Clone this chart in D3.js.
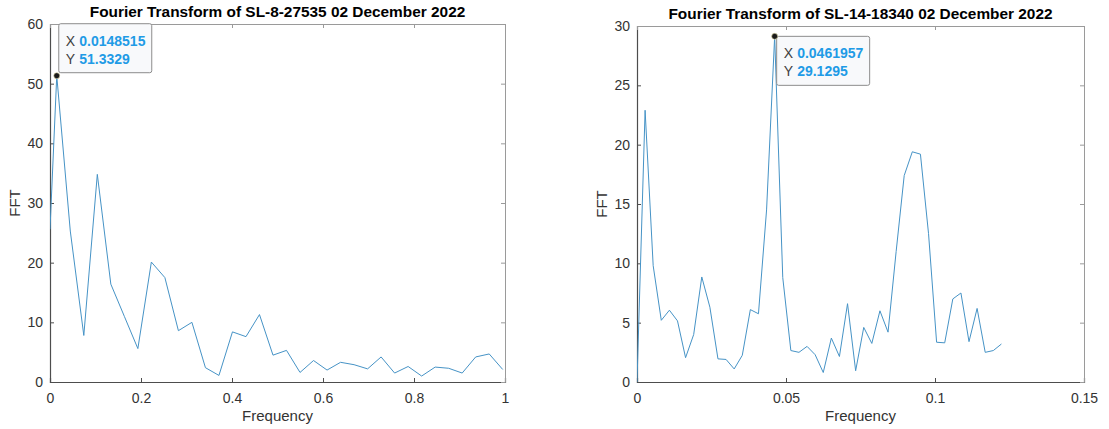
<!DOCTYPE html>
<html>
<head>
<meta charset="utf-8">
<script src="https://cdn.jsdelivr.net/npm/d3@7"></script>
<style>
  body { margin: 0; background: #fff; }
  svg { display: block; font-family: "Liberation Sans", Arial, Helvetica, sans-serif; }
</style>
</head>
<body>
<div id="chart"></div>
<script>
// Fourier transforms of two sensors

// left panel: SL-8-27535
const freqLeft = [0, 0.0148515, 0.0446, 0.0743, 0.1040, 0.1337, 0.1634, 0.1931, 0.2228, 0.2525,
  0.2822, 0.3119, 0.3416, 0.3713, 0.4010, 0.4307, 0.4604, 0.4901, 0.5198, 0.5495,
  0.5792, 0.6089, 0.6386, 0.6683, 0.6980, 0.7277, 0.7574, 0.7871, 0.8168, 0.8465,
  0.8762, 0.9059, 0.9356, 0.9653, 0.9950];
const fftLeft = [25.6, 51.3329, 25.3, 7.8, 34.8, 16.4, 11.0, 5.6, 20.1, 17.5,
  8.6, 10.0, 2.4, 1.1, 8.4, 7.6, 11.3, 4.5, 5.3, 1.6,
  3.6, 2.0, 3.3, 2.9, 2.2, 4.2, 1.5, 2.6, 1.0, 2.5,
  2.3, 1.5, 4.2, 4.7, 2.1];

// right panel: SL-14-18340
const freqRight = [0, 0.00272, 0.00543, 0.00815, 0.01087, 0.01359, 0.01630, 0.01902, 0.02174, 0.02446,
  0.02717, 0.02989, 0.03261, 0.03533, 0.03804, 0.04076, 0.04348, 0.0461957, 0.04891, 0.05163,
  0.05435, 0.05707, 0.05978, 0.06250, 0.06522, 0.06793, 0.07065, 0.07337, 0.07609, 0.07880,
  0.08152, 0.08424, 0.08696, 0.08967, 0.09239, 0.09511, 0.09783, 0.10054, 0.10326, 0.10598,
  0.10870, 0.11141, 0.11413, 0.11685, 0.11957, 0.12228];
const fftRight = [0, 22.9, 9.8, 5.2, 6.05, 5.15, 2.05, 4.0, 8.85, 6.3,
  1.95, 1.9, 1.1, 2.25, 6.1, 5.75, 14.5, 29.1295, 8.8, 2.65,
  2.5, 3.0, 2.3, 0.8, 3.7, 2.15, 6.6, 0.95, 4.6, 3.25,
  6.0, 4.2, 11.0, 17.4, 19.4, 19.2, 12.5, 3.35, 3.3, 7.0,
  7.5, 3.4, 6.2, 2.5, 2.65, 3.2];

const xTicksLeft = [0, 0.2, 0.4, 0.6, 0.8, 1];
const yTicksLeft = [0, 10, 20, 30, 40, 50, 60];
const xTicksRight = [0, 0.05, 0.1, 0.15];
const yTicksRight = [0, 5, 10, 15, 20, 25, 30];

const panels = [
  {
    title: 'Fourier Transform of SL-8-27535 02 December 2022',
    freq: freqLeft, fft: fftLeft,
    xDomain: [0, 1], yDomain: [0, 60],
    xTicks: xTicksLeft, yTicks: yTicksLeft,
    tipIndex: 1, tipText: ['0.0148515', '51.3329'], tipAbove: true,
    box: { left: 50, right: 505, top: 24, bottom: 382 },
  },
  {
    title: 'Fourier Transform of SL-14-18340 02 December 2022',
    freq: freqRight, fft: fftRight,
    xDomain: [0, 0.15], yDomain: [0, 30],
    xTicks: xTicksRight, yTicks: yTicksRight,
    tipIndex: 17, tipText: ['0.0461957', '29.1295'], tipAbove: false,
    box: { left: 637, right: 1084, top: 26, bottom: 382 },
  },
];

const svg = d3.select('#chart')
  .append('svg')
  .attr('width', 1109)
  .attr('height', 429);

const axisColor = '#4d4d4d';
const lineColor = '#4693c6';

panels.forEach((p, k) => {
  const { box } = p;
  const x = d3.scaleLinear().domain(p.xDomain).range([box.left, box.right]);
  const y = d3.scaleLinear().domain(p.yDomain).range([box.bottom, box.top]);
  const g = svg.append('g');

  // clip so the trace stays inside the axes
  const clipId = `clip${k}`;
  g.append('clipPath').attr('id', clipId)
    .append('rect')
    .attr('x', box.left).attr('y', box.top)
    .attr('width', box.right - box.left).attr('height', box.bottom - box.top);

  // bottom and left axes, ticks pointing inward
  const xAxis = d3.axisBottom(x).tickValues(p.xTicks).tickSize(-4).tickPadding(11)
    .tickFormat(d3.format('~g'));
  const yAxis = d3.axisLeft(y).tickValues(p.yTicks).tickSize(-4).tickPadding(7)
    .tickFormat(d3.format('~g'));

  const gx = g.append('g').attr('transform', `translate(0,${box.bottom})`).call(xAxis);
  const gy = g.append('g').attr('transform', `translate(${box.left},0)`).call(yAxis);

  // mirrored top and right axes (MATLAB "box on")
  const gxt = g.append('g').attr('transform', `translate(0,${box.top})`)
    .call(d3.axisTop(x).tickValues(p.xTicks).tickSize(-4).tickFormat(''));
  const gyr = g.append('g').attr('transform', `translate(${box.right},0)`)
    .call(d3.axisRight(y).tickValues(p.yTicks).tickSize(-4).tickFormat(''));

  [gx, gy].forEach((a) => {
    a.select('.domain').attr('stroke', axisColor).attr('stroke-width', 1.2);
    a.selectAll('.tick line').attr('stroke', axisColor);
    a.selectAll('.tick text')
      .attr('fill', '#333')
      .style('font-size', '14px')
      .style('font-family', '"Liberation Sans", Arial, sans-serif');
  });
  [gxt, gyr].forEach((a) => {
    a.select('.domain').attr('stroke', '#9a9a9a').attr('stroke-width', 1);
    a.selectAll('.tick line').attr('stroke', '#9a9a9a');
  });

  // trace
  const pts = p.freq.map((f, i) => [f, p.fft[i]]);
  g.append('path')
    .datum(pts)
    .attr('clip-path', `url(#${clipId})`)
    .attr('fill', 'none')
    .attr('stroke', lineColor)
    .attr('stroke-width', 1)
    .attr('d', d3.line().x(d => x(d[0])).y(d => y(d[1])));

  // labels
  g.append('text')
    .text(p.title)
    .attr('x', (box.left + box.right) / 2)
    .attr('y', box.top - 7)
    .attr('text-anchor', 'middle')
    .attr('font-weight', 'bold')
    .attr('font-size', 15.4)
    .attr('fill', '#000');

  g.append('text')
    .text('Frequency')
    .attr('x', (box.left + box.right) / 2)
    .attr('y', 421)
    .attr('text-anchor', 'middle')
    .attr('font-size', 15)
    .attr('fill', '#333');

  g.append('text')
    .text('FFT')
    .attr('transform', `translate(${box.left - 30},${(box.top + box.bottom) / 2}) rotate(-90)`)
    .attr('text-anchor', 'middle')
    .attr('font-size', 15)
    .attr('fill', '#333');

  // data tip
  const tx = x(p.freq[p.tipIndex]);
  const ty = y(p.fft[p.tipIndex]);
  const bw = 93;
  const bh = 49;
  const bx = tx + 2;
  const by = p.tipAbove ? ty - 3 - bh : ty;

  g.append('rect')
    .attr('x', bx).attr('y', by)
    .attr('width', bw).attr('height', bh)
    .attr('rx', 2)
    .attr('fill', '#f8f9fb')
    .attr('stroke', '#8c8c8c')
    .attr('stroke-width', 1);

  ['X', 'Y'].forEach((lab, i) => {
    const t = g.append('text')
      .attr('x', bx + 7)
      .attr('y', by + 22 + i * 18)
      .attr('font-size', 14);
    t.append('tspan').text(lab).attr('fill', '#404040');
    t.append('tspan').text(p.tipText[i])
      .attr('x', bx + 20.5)
      .attr('font-weight', 'bold')
      .attr('fill', '#1f9be6');
  });

  g.append('circle')
    .attr('cx', tx).attr('cy', ty)
    .attr('r', 3)
    .attr('fill', '#1a1a1a')
    .attr('stroke', '#e8e2b0')
    .attr('stroke-width', 0.6);
});
</script>
</body>
</html>
